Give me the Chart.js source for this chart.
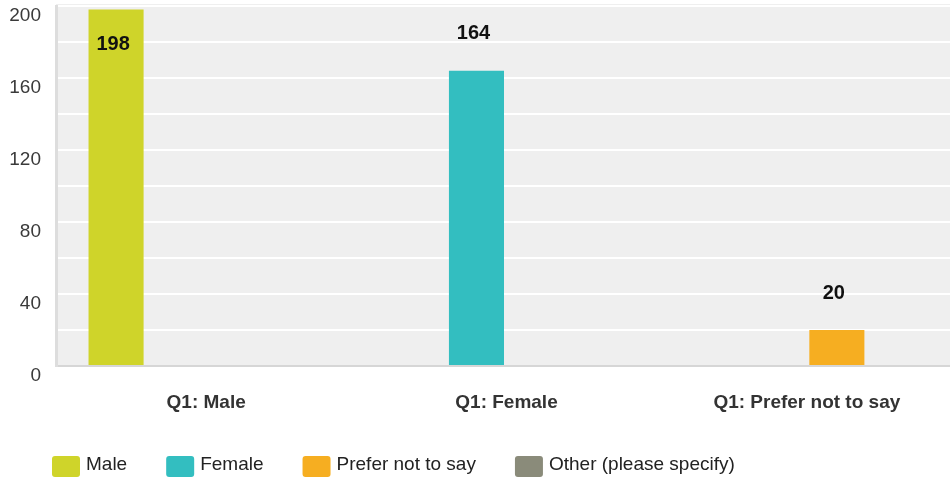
<!DOCTYPE html>
<html>
<head>
<meta charset="utf-8">
<script src="https://cdn.jsdelivr.net/npm/chart.js@4.4.1/dist/chart.umd.min.js"></script>
<style>
  html, body { margin: 0; padding: 0; overflow: hidden; background: #ffffff; }
  #wrap { width: 957px; height: 482px; position: relative; }
</style>
</head>
<body>
<div id="wrap"><canvas id="chart"></canvas></div>
<script>
// Survey question 1: respondents by gender
const categories = ['Q1: Male', 'Q1: Female', 'Q1: Prefer not to say'];
const seriesNames = ['Male', 'Female', 'Prefer not to say', 'Other (please specify)'];
const maleValues = [198, null, null];
const femaleValues = [null, 164, null];
const preferNotValues = [null, null, 20];
const otherValues = [null, null, null];
const yTickLabels = [0, 40, 80, 120, 160, 200];
const seriesColors = ['#cfd42a', '#33bec0', '#f6ae21', '#8a8b7a'];

const FONT = "'Liberation Sans', Arial, Helvetica, sans-serif";
const seriesValues = [maleValues, femaleValues, preferNotValues, otherValues];

// grey plot background behind the grid
const plotBackground = {
  id: 'plotBackground',
  beforeDraw(chart) {
    const { ctx, chartArea: a } = chart;
    ctx.save();
    ctx.fillStyle = '#efefef';
    ctx.fillRect(a.left, a.top - 2, a.right - a.left, a.bottom - a.top + 2);
    ctx.restore();
  }
};

// bold value labels above each bar (inside when there is no room above)
const valueLabels = {
  id: 'valueLabels',
  afterDatasetsDraw(chart) {
    const { ctx, chartArea: a } = chart;
    ctx.save();
    ctx.font = 'bold 20px ' + FONT;
    ctx.fillStyle = '#111111';
    ctx.textAlign = 'center';
    ctx.textBaseline = 'middle';
    chart.data.datasets.forEach((ds, di) => {
      const meta = chart.getDatasetMeta(di);
      meta.data.forEach((bar, i) => {
        const v = ds.data[i];
        if (v === null || v === undefined) return;
        let y = bar.y - 37;
        if (y < a.top + 12) y = bar.y + 35;
        ctx.fillText(String(v), bar.x - 3, y);
      });
    });
    ctx.restore();
  }
};

// legend row along the bottom with rounded colour keys
const bottomLegend = {
  id: 'bottomLegend',
  afterDraw(chart) {
    const { ctx } = chart;
    ctx.save();
    ctx.font = '19px ' + FONT;
    ctx.textAlign = 'left';
    ctx.textBaseline = 'middle';
    let x = 52;
    const boxTop = 456, boxW = 28, boxH = 21;
    chart.data.datasets.forEach((ds) => {
      ctx.fillStyle = ds.backgroundColor;
      ctx.beginPath();
      ctx.roundRect(x, boxTop, boxW, boxH, 3);
      ctx.fill();
      const tx = x + boxW + 6;
      ctx.fillStyle = '#222222';
      ctx.fillText(ds.label, tx, 465);
      x = tx + ctx.measureText(ds.label).width + 39;
    });
    ctx.restore();
  }
};

new Chart(document.getElementById('chart'), {
  type: 'bar',
  data: {
    labels: categories,
    datasets: seriesNames.map((name, i) => ({
      label: name,
      data: seriesValues[i],
      backgroundColor: seriesColors[i],
      borderWidth: 0,
      categoryPercentage: 0.8,
      barPercentage: 55 / 60
    }))
  },
  options: {
    responsive: true,
    maintainAspectRatio: false,
    animation: false,
    devicePixelRatio: 1,
    layout: { padding: { top: 6, right: 0, bottom: 68, left: 0 } },
    plugins: {
      legend: { display: false },
      tooltip: { enabled: false }
    },
    scales: {
      x: {
        grid: { display: false, drawTicks: false },
        border: { display: true, color: '#d6d6d6', width: 2 },
        ticks: {
          padding: 25,
          color: '#333333',
          font: { family: FONT, size: 19, weight: 'bold' },
          maxRotation: 0,
          autoSkip: false
        },
        afterFit(scale) {
          scale.height = 48;
          scale.paddingLeft = 0;
          scale.paddingRight = 0;
        }
      },
      y: {
        min: 0,
        max: 200,
        grid: {
          drawTicks: false,
          color: (c) => (c.tick && c.tick.value === 0 ? 'rgba(0,0,0,0)' : '#ffffff'),
          lineWidth: 2
        },
        border: { display: true, color: '#dddddd', width: 3 },
        ticks: {
          stepSize: 20,
          padding: 15,
          labelOffset: 10,
          autoSkip: false,
          color: '#3a3a3a',
          font: { family: FONT, size: 19 },
          callback: (v) => (yTickLabels.includes(v) ? String(v) : '')
        },
        afterFit(scale) {
          scale.width = 56;
          scale.paddingTop = 0;
          scale.paddingBottom = 0;
        }
      }
    }
  },
  plugins: [plotBackground, valueLabels, bottomLegend]
});
</script>
</body>
</html>
